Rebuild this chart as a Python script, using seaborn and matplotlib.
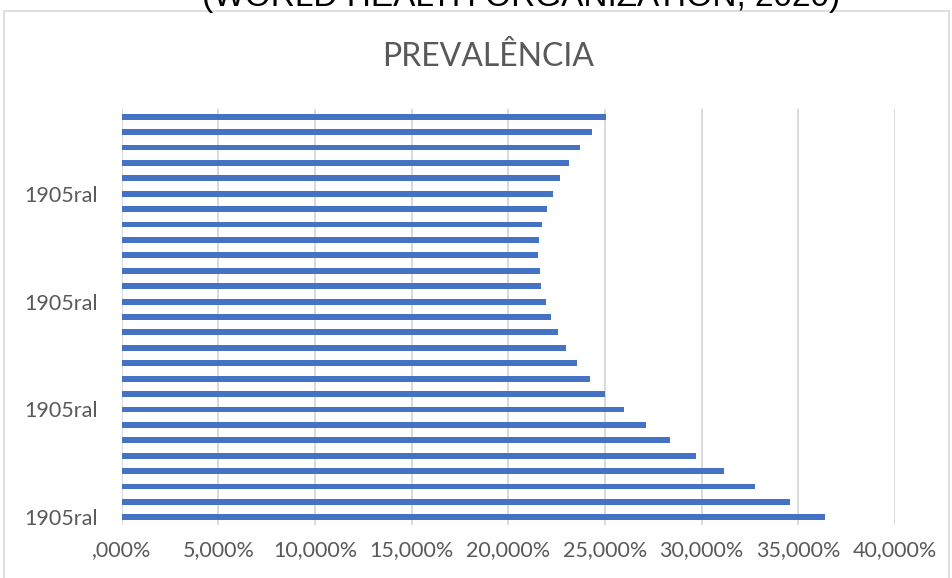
import numpy as np
import pandas as pd
import matplotlib
matplotlib.use("Agg")
import matplotlib.pyplot as plt
import seaborn as sns
from matplotlib.patches import Rectangle

# data, bottom bar first
years = [str(y) for y in range(1990, 2017)]
prevalence = [36.40, 34.59, 32.75, 31.15, 29.70, 28.34, 27.10, 26.00, 25.00,
              24.21, 23.56, 22.97, 22.58, 22.21, 21.94, 21.68, 21.63, 21.53,
              21.58, 21.75, 21.99, 22.32, 22.68, 23.14, 23.70, 24.33, 25.07]
label_years = ["1990", "1997", "2004", "2011"]
label_text = "1905ral"
x_ticks = [0, 5, 10, 15, 20, 25, 30, 35, 40]
x_tick_labels = [",000%", "5,000%", "10,000%", "15,000%", "20,000%",
                 "25,000%", "30,000%", "35,000%", "40,000%"]

sns.set_theme(style="white")
plt.rcParams['font.family'] = ['Lato', 'DejaVu Sans']

df = pd.DataFrame({"ano": years, "prev": prevalence})

fig = plt.figure(figsize=(9.53, 5.78), dpi=100)
ax = fig.add_axes([121.6 / 953, 1 - 525 / 578, (895 - 121.6) / 953, 416 / 578])

sns.barplot(data=df, x="prev", y="ano", order=years[::-1], orient="h",
            color="#4472C4", saturation=1, width=0.38, linewidth=0, ax=ax)

ax.set_xlim(0, 40)
ax.set_xticks(x_ticks)
ax.set_xticklabels(x_tick_labels, fontsize=15.5, color="#595959")
ax.xaxis.grid(True, color="#D9D9D9", linewidth=1.4)
ax.set_axisbelow(True)

order = years[::-1]
ax.set_yticks([order.index(y) for y in label_years])
ax.set_yticklabels([label_text] * len(label_years), fontsize=15.5, color="#595959")
ax.tick_params(axis="x", length=0, pad=11)
ax.tick_params(axis="y", length=0, pad=17)
ax.set_xlabel("")
ax.set_ylabel("")
for s in ax.spines.values():
    s.set_visible(False)

fig.text(488 / 953, 1 - 57 / 578, "PREVALÊNCIA", ha="center", va="center",
         fontsize=23, color="#595959")
fig.text(521 / 953, 1 - 6 / 578, "(WORLD HEALTH ORGANIZATION, 2020)",
         ha="center", va="baseline", fontsize=24, color="black",
         family=["Liberation Sans", "DejaVu Sans"])

fig.patches.append(Rectangle((4 / 953, -0.01), 945 / 953, 1 - 11 / 578 + 0.01,
                             transform=fig.transFigure, fill=False,
                             edgecolor="#D9D9D9", linewidth=1.2))

fig.savefig("out.png", dpi=100)
